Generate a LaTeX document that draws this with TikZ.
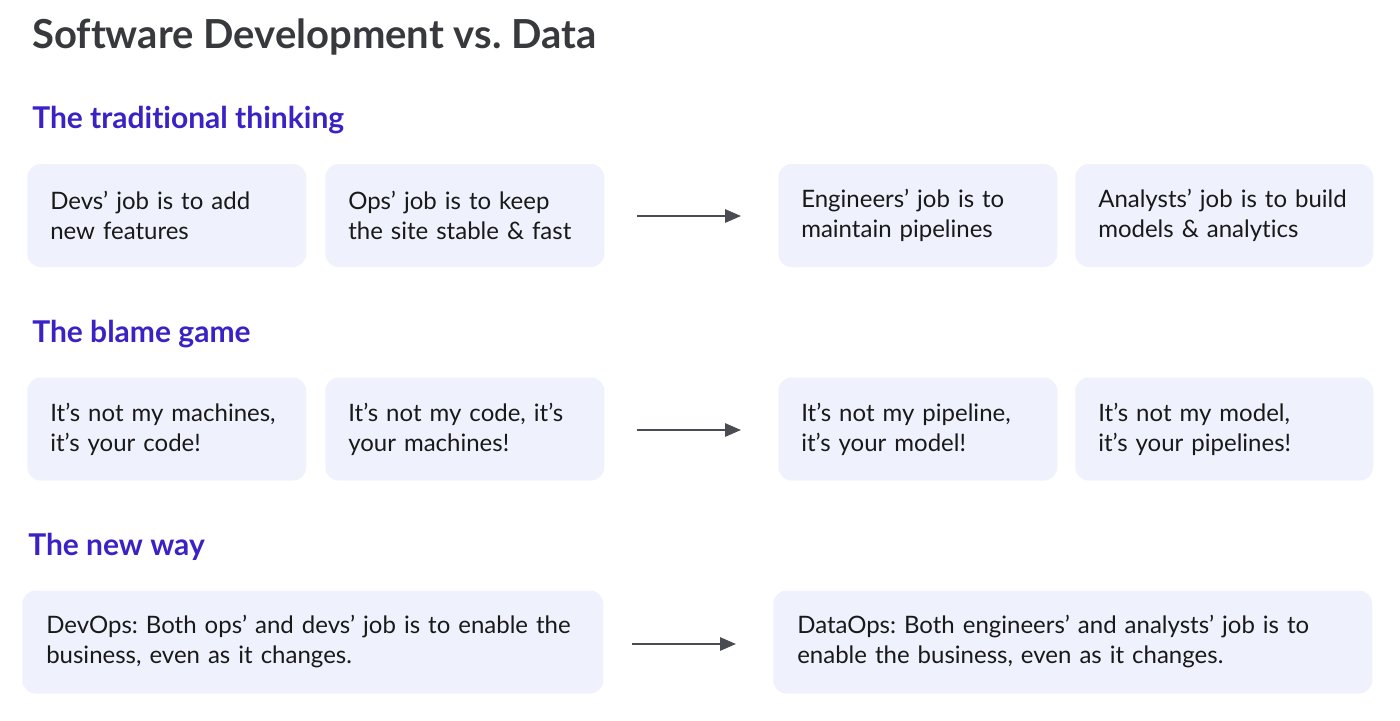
\documentclass[tikz,border=0pt]{standalone}
\usepackage{fontspec}
\setmainfont{Lato}[Ligatures={NoCommon}]
\usetikzlibrary{arrows.meta}
\frenchspacing
\definecolor{titlegray}{HTML}{38393C}
\definecolor{headblue}{HTML}{3A22C4}
\definecolor{boxfill}{HTML}{EFF2FC}
\definecolor{arrowgray}{HTML}{4A4C54}
\tikzset{
  title/.style={anchor=west, inner sep=0pt, font=\fontsize{30}{36}\selectfont\bfseries, text=titlegray},
  heading/.style={anchor=west, inner sep=0pt, font=\fontsize{22.5}{27}\selectfont\bfseries, text=headblue},
  card/.style={fill=boxfill, rounded corners=10pt, align=left, anchor=west,
    minimum height=77.25pt, inner ysep=0pt, inner xsep=17.25pt,
    font=\fontsize{18}{22.5}\selectfont, text=black!90},
  small/.style={card, text width=174.75pt, minimum width=209.25pt},
  arr/.style={draw=arrowgray, line width=1.5pt, -{Triangle[length=12pt,width=10pt]}}
}
\begin{document}
\begin{tikzpicture}[x=0.75pt,y=-0.75pt]
\useasboundingbox (0,0) rectangle (1400,721);
\node[title] (t) at (32,37) {Software Development vs. Data};
\node[heading] (h1) at (32,120) {The traditional thinking};
\node[heading] (h2) at (32,334) {The blame game};
\node[heading] (h3) at (28,547) {The new way};
% row 1
\node[small] (a1) at (27,215.5) {Devs’ job is to add\\new features};
\node[small] (a2) at (325,215.5) {Ops’ job is to keep\\the site stable \& fast};
\node[small] (a3) at (778,215.5) {Engineers’ job is to\\maintain pipelines};
\node[card, text width=189pt, minimum width=223.5pt] (a4) at (1075,215.5) {Analysts’ job is to build\\models \& analytics};
% row 2
\node[small] (b1) at (27,429) {It’s not my machines,\\it’s your code!};
\node[small] (b2) at (325,429) {It’s not my code, it’s\\your machines!};
\node[small] (b3) at (778,429) {It’s not my pipeline,\\it’s your model!};
\node[card, text width=189pt, minimum width=223.5pt] (b4) at (1075,429) {It’s not my model,\\it’s your pipelines!};
% row 3
\node[card, text width=399.75pt, minimum width=435.75pt, inner xsep=18pt] (c1) at (22,642) {DevOps: Both ops’ and devs’ job is to enable the\\business, even as it changes.};
\node[card, text width=413.25pt, minimum width=449.25pt, inner xsep=18pt] (c2) at (773,642) {DataOps: Both engineers’ and analysts’ job is to\\enable the business, even as it changes.};
% arrows
\coordinate (p1) at (637,216); \coordinate (q1) at (741,216);
\coordinate (p2) at (637,430); \coordinate (q2) at (741,430);
\coordinate (p3) at (632,644); \coordinate (q3) at (736,644);
\draw[arr] (p1) -- (q1);
\draw[arr] (p2) -- (q2);
\draw[arr] (p3) -- (q3);
\end{tikzpicture}
\end{document}
